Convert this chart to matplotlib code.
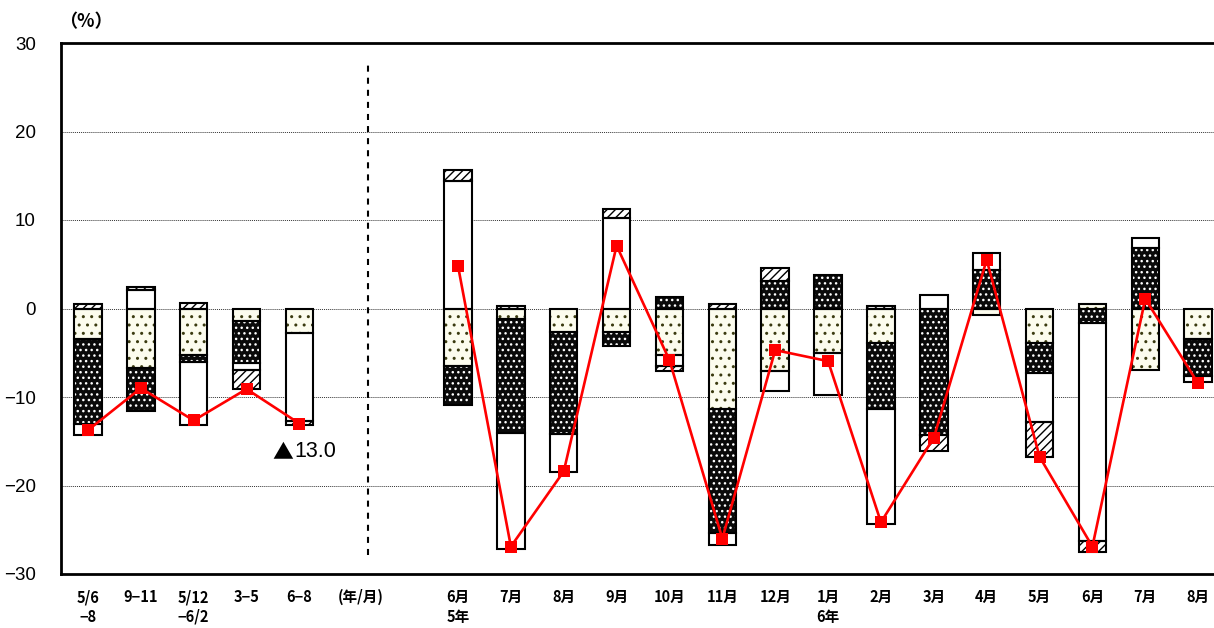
import numpy as np
import matplotlib
matplotlib.use("Agg")
import matplotlib.pyplot as plt

plt.rcParams['font.family'] = ['Noto Sans CJK JP', 'DejaVu Sans']
plt.rcParams['hatch.linewidth'] = 1.0

# ---- data (percent) ----
quarter_labels = ['5/6\n−8', '9−11', '5/12\n−6/2', '3−5', '6−8']
month_labels = ['6月\n5年', '7月', '8月', '9月', '10月', '11月', '12月',
                '1月\n6年', '2月', '3月', '4月', '5月', '6月', '7月', '8月']

# stacked parts, in stacking order outward from zero
dot_q   = [-3.43, -6.70, -5.30, -1.43, -2.75]
dark_q  = [-9.67, -4.90, -0.77, -4.77, 0.0]
white_q = [-1.20, 2.10, -7.13, -0.70, -9.95]
hatch_q = [0.50, 0.35, 0.60, -2.14, -0.45]
total_q = [-13.75, -9.0, -12.65, -9.1, -13.0]

dot_m   = [-6.45, -1.24, -2.63, -2.67, -5.20, -11.40, -7.08, -5.08, -3.88, 0.0,
           -0.76, -3.95, 0.56, -6.97, -3.50]
dark_m  = [-4.40, -12.86, -11.57, -1.59, 1.28, -13.95, 3.08, 3.84, -7.45, -14.24,
           4.40, -3.35, -1.60, 6.86, -4.15]
white_m = [14.40, -13.10, -4.30, 10.25, -1.30, -1.35, -2.26, -4.75, -13.07, 1.50,
           1.90, -5.50, -24.70, 1.14, -0.65]
hatch_m = [1.20, 0.30, 0.0, 1.02, -0.60, 0.50, 1.52, 0.0, 0.30, -1.86,
           0.0, -3.95, -1.20, 0.0, 0.0]
total_m = [4.8, -26.9, -18.4, 7.1, -5.85, -26.0, -4.7, -5.95, -24.15, -14.6,
           5.5, -16.75, -26.9, 1.1, -8.47]

x_q = np.arange(len(quarter_labels))
x_m = np.arange(len(month_labels)) + 7
x_all = np.concatenate([x_q, x_m])

parts = [
    (np.array(dot_q + dot_m), '#fcfcee', '#3a3a10', '..'),
    (np.array(dark_q + dark_m), '#0a0a0a', 'white', '...'),
    (np.array(white_q + white_m), 'white', 'white', None),
    (np.array(hatch_q + hatch_m), 'white', 'black', '////'),
]

fig = plt.figure(figsize=(12.14, 6.28), dpi=100)
ax = fig.add_axes([61 / 1214, 54 / 628, 1153 / 1214, 531 / 628])

w = 0.52
pos_base = np.zeros(len(x_all))
neg_base = np.zeros(len(x_all))
for vals, face, hcol, hatch in parts:
    bottom = np.where(vals >= 0, pos_base, neg_base)
    keep = vals != 0
    ax.bar(x_all[keep], vals[keep], w, bottom=bottom[keep], color=face,
           edgecolor=hcol, hatch=hatch, linewidth=0, zorder=2)
    ax.bar(x_all[keep], vals[keep], w, bottom=bottom[keep], fill=False,
           edgecolor='black', linewidth=1.5, zorder=3)
    pos_base += np.where(vals >= 0, vals, 0)
    neg_base += np.where(vals < 0, vals, 0)

# totals
for xs, ys in [(x_q, total_q), (x_m, total_m)]:
    ax.plot(xs, ys, color='#ff0000', lw=1.9, marker='s', markersize=8.5,
            markeredgewidth=0, zorder=5)

# separator between quarterly and monthly
ax.plot([5.3, 5.3], [-27.8, 28.1], color='black', lw=1.5,
        linestyle=(0, (2.9, 2.9)), zorder=4)

ax.text(3.88, -16.2, '▲', ha='right', va='center', fontsize=15,
        family=['Noto Sans CJK JP'])
ax.text(3.9, -16.2, '13.0', ha='left', va='center', fontsize=15.5,
        family=['Liberation Sans'])

ax.set_xlim(-0.51, 21.3)
ax.set_ylim(-30, 30)
ax.set_yticks(np.arange(-30, 31, 10))
ax.yaxis.grid(True, linestyle=(0, (1, 1)), color='#333333', lw=0.7)
ax.set_axisbelow(True)

ax.set_xticks(list(x_q) + [5.16] + list(x_m))
ax.set_xticklabels(quarter_labels + ['(年/月)'] + month_labels,
                   fontsize=10.5, fontweight='bold', linespacing=1.25, va='top')
ax.tick_params(axis='x', length=0, pad=11)
ax.tick_params(axis='y', length=0, pad=18, labelsize=13.5)
for lbl in ax.get_yticklabels():
    lbl.set_family(['Liberation Sans', 'DejaVu Sans'])

for side in ['left', 'top', 'bottom']:
    ax.spines[side].set_linewidth(2.0)
ax.spines['right'].set_visible(False)

fig.text(86 / 1214, 1 - 22 / 628, '（%）', ha='center', va='center',
         fontsize=13, fontweight='bold')

fig.savefig('out.png', dpi=100)
